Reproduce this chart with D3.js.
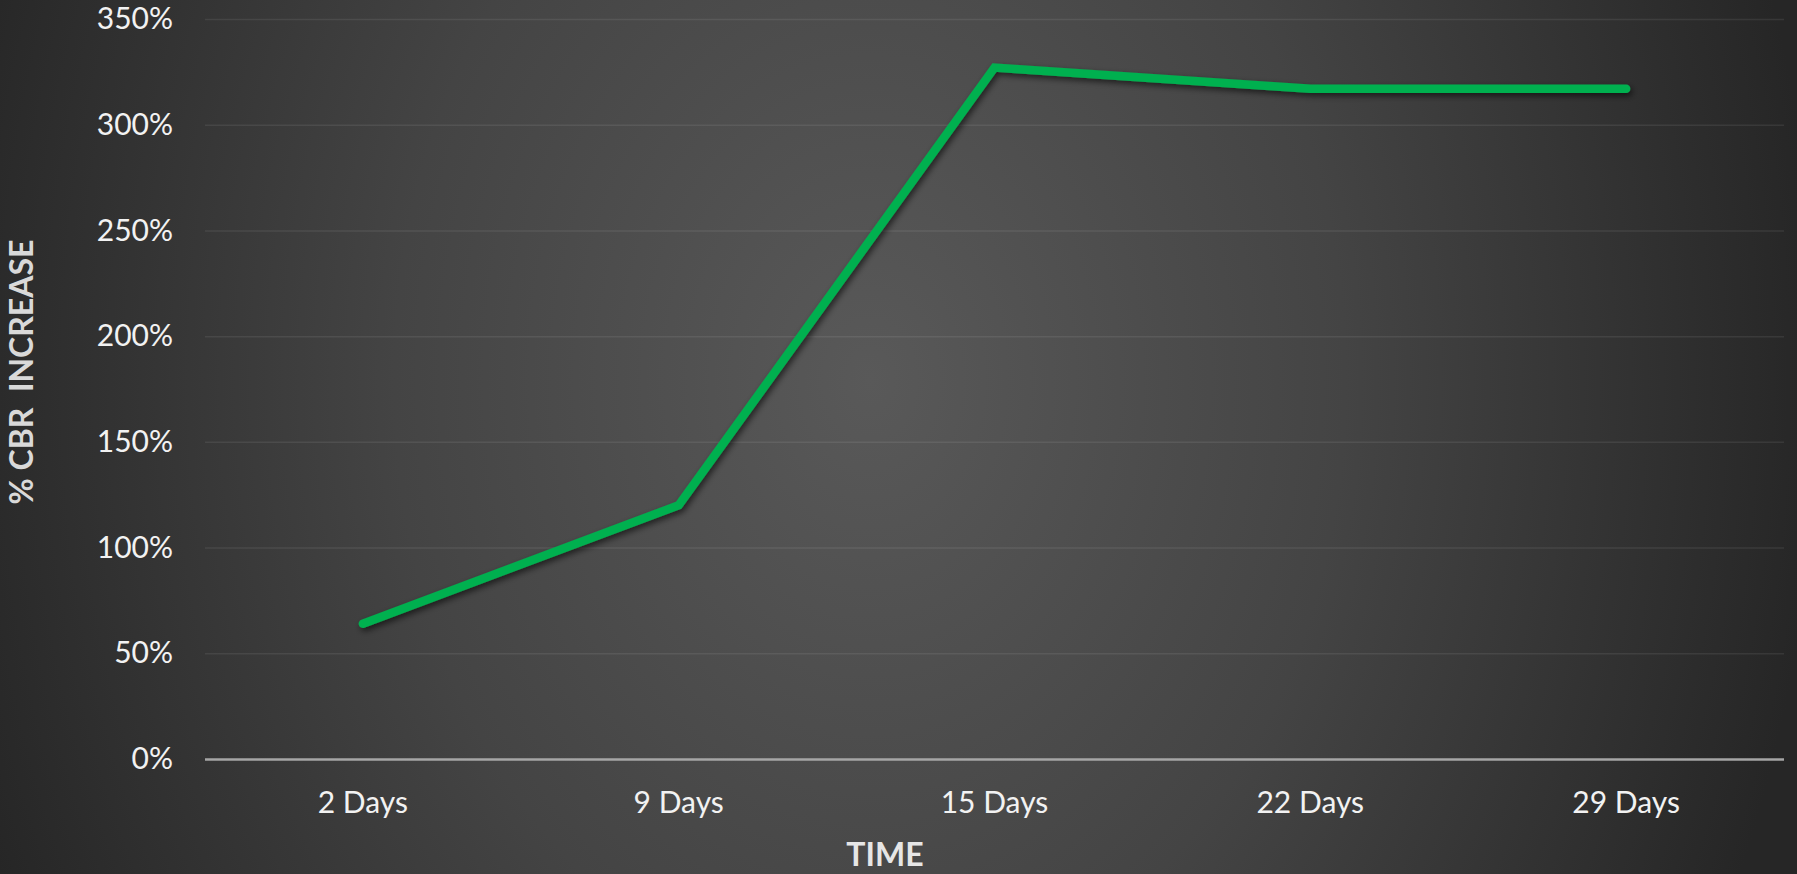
<!DOCTYPE html>
<html>
<head>
<meta charset="utf-8">
<script src="https://cdn.jsdelivr.net/npm/d3@7"></script>
<style>
  html, body { margin: 0; padding: 0; background: #262626; overflow: hidden; }
  svg { display: block; }
</style>
</head>
<body>
<script>
// chart data
let categories = ["2 Days", "9 Days", "15 Days", "22 Days", "29 Days"];
let cbrIncrease = [0.64, 1.20, 3.27, 3.17, 3.17];
let yTicks = [0, 0.5, 1, 1.5, 2, 2.5, 3, 3.5];
let yTitle = "% CBR  INCREASE", xTitle = "TIME";

let w = 1797, h = 874;
let margin = {top: 19, right: 13, bottom: 115, left: 205};
let width = w - margin.left - margin.right, height = h - margin.top - margin.bottom;

let svg = d3.select("body").append("svg").attr("width", w).attr("height", h);
let defs = svg.append("defs");

// background glow
let grad = defs.append("radialGradient")
  .attr("id", "bg")
  .attr("gradientUnits", "userSpaceOnUse")
  .attr("cx", 870).attr("cy", 380).attr("r", 950)
  .attr("gradientTransform", "translate(870,380) scale(1,1.3) translate(-870,-380)");
grad.append("stop").attr("offset", "0").attr("stop-color", "#595959");
grad.append("stop").attr("offset", "0.5").attr("stop-color", "#444444");
grad.append("stop").attr("offset", "1").attr("stop-color", "#262626");

let shadow = defs.append("filter").attr("id", "shadow")
  .attr("x", "-10%").attr("y", "-10%").attr("width", "120%").attr("height", "130%");
shadow.append("feDropShadow")
  .attr("dx", 2).attr("dy", 3).attr("stdDeviation", 3)
  .attr("flood-color", "#000").attr("flood-opacity", 0.6);

svg.append("rect").attr("width", w).attr("height", h).attr("fill", "url(#bg)");

let g = svg.append("g").attr("transform", "translate(" + margin.left + "," + margin.top + ")");

let xScale = d3.scaleBand().domain(categories).range([0, width]).padding(0);
let yScale = d3.scaleLinear().domain([0, 3.5]).range([height, 0]);

// y axis + gridlines
let yAxis = g.append("g")
  .attr("class", "axis axis--y")
  .call(d3.axisLeft(yScale).tickValues(yTicks).tickFormat(d3.format(".0%"))
    .tickSizeInner(-width).tickSizeOuter(0).tickPadding(32));
yAxis.select(".domain").remove();
yAxis.selectAll(".tick line")
  .attr("stroke", function (d) { return d === 0 ? "#a6a6a6" : "rgba(255,255,255,0.08)"; })
  .attr("stroke-width", function (d) { return d === 0 ? 2.5 : 1.5; });
yAxis.selectAll(".tick text")
  .attr("font-family", "Lato, sans-serif")
  .attr("font-size", "30px")
  .attr("fill", "#f2f2f2");

// x axis labels
let xAxis = g.append("g")
  .attr("class", "axis axis--x")
  .attr("transform", "translate(0," + height + ")")
  .call(d3.axisBottom(xScale).tickSize(0).tickPadding(33));
xAxis.select(".domain").remove();
xAxis.selectAll(".tick text")
  .attr("font-family", "Lato, sans-serif")
  .attr("font-size", "30px")
  .attr("fill", "#f2f2f2");

// line
let line = d3.line()
  .x(function (d, i) { return xScale(categories[i]) + xScale.bandwidth() / 2; })
  .y(function (d) { return yScale(d); });

g.append("path")
  .datum(cbrIncrease)
  .attr("d", line)
  .attr("fill", "none")
  .attr("stroke", "#00b050")
  .attr("stroke-width", 8.5)
  .attr("stroke-linecap", "round")
  .attr("stroke-linejoin", "miter")
  .attr("filter", "url(#shadow)");

// axis titles
svg.append("text")
  .text(yTitle)
  .attr("transform", "translate(33,372) rotate(-90)")
  .attr("text-anchor", "middle")
  .attr("font-family", "Lato, sans-serif")
  .attr("font-weight", "bold")
  .attr("font-size", "32px")
  .attr("fill", "#d9d9d9")
  .style("white-space", "pre");

svg.append("text")
  .text(xTitle)
  .attr("x", 885)
  .attr("y", 866)
  .attr("text-anchor", "middle")
  .attr("font-family", "Lato, sans-serif")
  .attr("font-weight", "bold")
  .attr("font-size", "32px")
  .attr("fill", "#e6e6e6");
</script>
</body>
</html>
